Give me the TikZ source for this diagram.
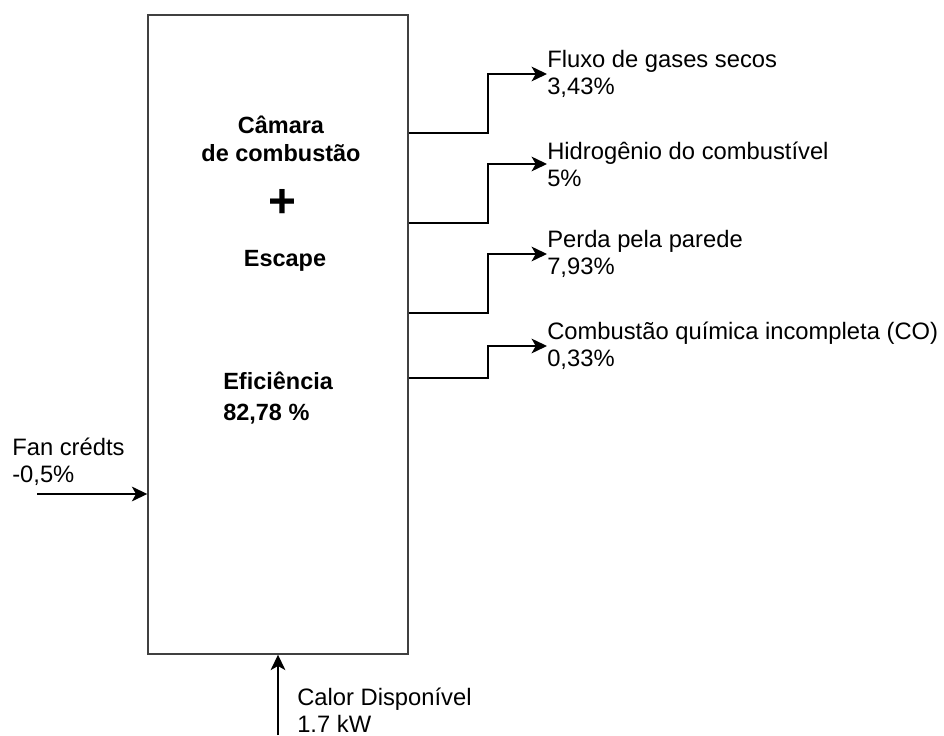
\documentclass[tikz,border=0pt]{standalone}
\usepackage{fontspec}
\setmainfont{Liberation Sans}
\usepackage{tikz}
\usetikzlibrary{arrows.meta, positioning}

\begin{document}
\begin{tikzpicture}[every node/.style={font=\fontsize{16.9pt}{19.2pt}\selectfont, inner sep=0pt},
  boxtxt/.style={font=\fontsize{16.7pt}{19.8pt}\selectfont\bfseries, align=center},
  flow/.style={line width=1.05pt, -{Stealth[length=11pt, width=10.5pt, inset=3pt]}}]
\useasboundingbox (0,0) rectangle (23.6,18.375);
% Chamber (one big box)
\node[draw=black!75, line width=1pt, minimum width=6.5cm, minimum height=15.975cm] (box) at (6.95,10.0125) {};
\node[boxtxt] (chamber) at (7.025,14.91) {Câmara\\de combustão};
\node[font=\fontsize{34pt}{40pt}\selectfont\bfseries] (plus) at (7.06,13.3) {+};
\node[boxtxt] (escape) at (7.125,11.86) {Escape};
\node[boxtxt, font=\fontsize{16.7pt}{22pt}\selectfont\bfseries, align=left, anchor=north west] (eff) at (5.575,9.075) {Eficiência\\82,78 \%};
% Losses (right side)
\node[anchor=west, align=left] (gas) at (13.675,16.525) {Fluxo de gases secos\\3,43\%};
\node[anchor=west, align=left] (hyd) at (13.675,14.275) {Hidrogênio do combustível\\5\%};
\node[anchor=west, align=left] (wall) at (13.675,12.025) {Perda pela parede\\7,93\%};
\node[anchor=west, align=left] (co) at (13.675,9.725) {Combustão química incompleta (CO)\\0,33\%};
\draw[flow] (box.east |- 0,15.05) -- (12.2,15.05) |- (gas.west);
\draw[flow] (box.east |- 0,12.8) -- (12.2,12.8) |- (hyd.west);
\draw[flow] (box.east |- 0,10.55) -- (12.2,10.55) |- (wall.west);
\draw[flow] (box.east |- 0,8.925) -- (12.2,8.925) |- (co.west);
% Fan credits (left side)
\node[anchor=north west, align=left] (fan) at (0.3,7.4375) {Fan crédts\\-0,5\%};
\coordinate (fanin) at (0.925,6.025);
\draw[flow] (fanin) -- (box.west |- fanin);
% Available heat (bottom)
\coordinate (heatin) at (6.95,0);
\draw[flow] (heatin) -- (box.south);
\node[anchor=north west, align=left] (heat) at (7.425,1.1875) {Calor Disponível\\1.7 kW};
\end{tikzpicture}
\end{document}
